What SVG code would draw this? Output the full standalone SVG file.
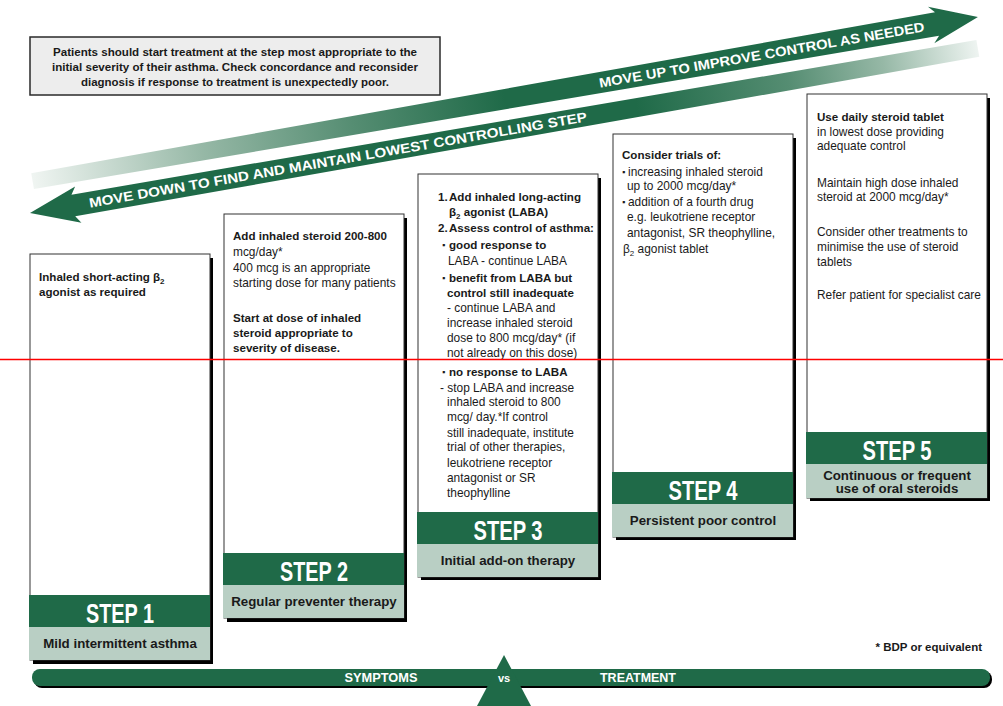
<svg xmlns="http://www.w3.org/2000/svg" width="1003" height="706" viewBox="0 0 1003 706">
<defs>
<style>
text{font-family:"Liberation Sans",Arial,sans-serif;fill:#1a1a1a}
.b{font-size:11.9px}
.bd{font-weight:bold}
.b.bd{font-size:11.6px}
.bul{font-size:9px}
.step{font-size:28px;font-weight:bold;fill:#fff;text-anchor:middle}
.lab{font-size:13.3px;font-weight:bold;text-anchor:middle;fill:#1a1a1a}
.arw{font-size:13.5px;font-weight:bold;fill:#fff}
.shadow{fill:#000}
.box{fill:#fff;stroke:#333;stroke-width:1}
.green{fill:#1f6a48}
.sage{fill:#b9cfc4}
.sub{font-size:8px}
</style>
<linearGradient id="gUp" gradientUnits="userSpaceOnUse" x1="8" y1="0" x2="967" y2="0">
<stop offset="0" stop-color="#f0f5f2"/>
<stop offset="0.18" stop-color="#96b8a6"/>
<stop offset="0.34" stop-color="#558d72"/>
<stop offset="0.5" stop-color="#1f6a48"/>
<stop offset="1" stop-color="#1f6a48"/>
</linearGradient>
<linearGradient id="gDown" gradientUnits="userSpaceOnUse" x1="0" y1="0" x2="962" y2="0">
<stop offset="0" stop-color="#1f6a48"/>
<stop offset="0.64" stop-color="#1f6a48"/>
<stop offset="0.8" stop-color="#558d72"/>
<stop offset="0.9" stop-color="#96b8a6"/>
<stop offset="1" stop-color="#eef4f1"/>
</linearGradient>
</defs>
<rect width="1003" height="706" fill="#fff"/>

<g id="arrows" transform="translate(30,213) rotate(-9.85)">
<path d="M 8 -39 L 926 -43 L 920 -49.5 L 967.5 -31 L 920 -12.5 L 926 -19 L 8 -23 Z" fill="url(#gUp)"/>
<path d="M 0 0 L 49 -18.5 L 44 -11 L 962 -8.5 L 962 8.5 L 44 11 L 49 18.5 Z" fill="url(#gDown)"/>
<text class="arw" x="583" y="-26" textLength="330" lengthAdjust="spacingAndGlyphs">MOVE UP TO IMPROVE CONTROL AS NEEDED</text>
<text class="arw" x="60" y="5" textLength="505" lengthAdjust="spacingAndGlyphs">MOVE DOWN TO FIND AND MAINTAIN LOWEST CONTROLLING STEP</text>
</g>

<g id="note">
<rect x="30" y="37" width="410" height="58" fill="#ededed" stroke="#2a2a2a" stroke-width="1.5"/>
<text class="bd" font-size="11.5" x="235" y="55.5" text-anchor="middle" textLength="364" lengthAdjust="spacingAndGlyphs">Patients should start treatment at the step most appropriate to the</text>
<text class="bd" font-size="11.5" x="235" y="70.5" text-anchor="middle" textLength="366" lengthAdjust="spacingAndGlyphs">initial severity of their asthma. Check concordance and reconsider</text>
<text class="bd" font-size="11.5" x="235" y="85.5" text-anchor="middle" textLength="308" lengthAdjust="spacingAndGlyphs">diagnosis if response to treatment is unexpectedly poor.</text>
</g>

<g id="step1">
<rect class="shadow" x="33" y="258" width="180" height="406"/>
<rect class="box" x="30" y="254" width="180" height="406"/>
<rect class="green" x="29" y="595" width="181" height="32"/>
<rect class="sage" x="29" y="627" width="181" height="33"/>
<text class="b bd" x="39" y="281">Inhaled short-acting β<tspan class="sub" dy="3">2</tspan></text>
<text class="b bd" x="39" y="296">agonist as required</text>
<text class="step" x="120" y="622.5" textLength="68" lengthAdjust="spacingAndGlyphs">STEP 1</text>
<text class="lab" x="120" y="648">Mild intermittent asthma</text>
</g>

<g id="step2">
<rect class="shadow" x="227" y="218" width="180" height="404"/>
<rect class="box" x="224" y="214" width="180" height="404"/>
<rect class="green" x="223" y="553" width="181" height="32"/>
<rect class="sage" x="223" y="585" width="181" height="33"/>
<text class="b bd" x="233" y="240">Add inhaled steroid 200-800</text>
<text class="b" x="233" y="256">mcg/day*</text>
<text class="b" x="233" y="272">400 mcg is an appropriate</text>
<text class="b" x="233" y="287">starting dose for many patients</text>
<text class="b bd" x="233" y="322">Start at dose of inhaled</text>
<text class="b bd" x="233" y="337">steroid appropriate to</text>
<text class="b bd" x="233" y="352">severity of disease.</text>
<text class="step" x="314" y="580.5" textLength="68" lengthAdjust="spacingAndGlyphs">STEP 2</text>
<text class="lab" x="314" y="606">Regular preventer therapy</text>
</g>

<g id="step3">
<rect class="shadow" x="421" y="178" width="180" height="402"/>
<rect class="box" x="418" y="174" width="180" height="403"/>
<rect class="green" x="417" y="512" width="181" height="32"/>
<rect class="sage" x="417" y="544" width="181" height="33"/>
<text class="b bd" x="438" y="201">1.</text>
<text class="b bd" x="449" y="201">Add inhaled long-acting</text>
<text class="b bd" x="449" y="216">β<tspan class="sub" dy="3">2</tspan><tspan dy="-3"> agonist (LABA)</tspan></text>
<text class="b bd" x="438" y="232">2.</text>
<text class="b bd" x="449" y="232">Assess control of asthma:</text>
<text class="bul" x="442" y="248">▪</text>
<text class="b bd" x="449" y="249">good response to</text>
<text class="b" x="448" y="264.5">LABA - continue LABA</text>
<text class="bul" x="442" y="281">▪</text>
<text class="b bd" x="449" y="282">benefit from LABA but</text>
<text class="b bd" x="447" y="297">control still inadequate</text>
<text class="b" x="447" y="312">- continue LABA and</text>
<text class="b" x="447" y="327">increase inhaled steroid</text>
<text class="b" x="447" y="342">dose to 800 mcg/day* (if</text>
<text class="b" x="447" y="357">not already on this dose)</text>
<text class="bul" x="442" y="375">▪</text>
<text class="b bd" x="449" y="376">no response to LABA</text>
<text class="b" x="440" y="391.5">- stop LABA and increase</text>
<text class="b" x="447" y="406">inhaled steroid to 800</text>
<text class="b" x="447" y="421">mcg/ day.*If control</text>
<text class="b" x="447" y="436.5">still inadequate, institute</text>
<text class="b" x="447" y="451">trial of other therapies,</text>
<text class="b" x="447" y="467">leukotriene receptor</text>
<text class="b" x="447" y="482">antagonist or SR</text>
<text class="b" x="447" y="497">theophylline</text>
<text class="step" x="508" y="539.5" textLength="69" lengthAdjust="spacingAndGlyphs">STEP 3</text>
<text class="lab" x="508" y="565">Initial add-on therapy</text>
</g>

<g id="step4">
<rect class="shadow" x="616" y="138" width="180" height="402"/>
<rect class="box" x="613" y="134" width="180" height="403"/>
<rect class="green" x="612" y="472" width="181" height="32"/>
<rect class="sage" x="612" y="504" width="181" height="33"/>
<text class="b bd" x="622" y="159">Consider trials of:</text>
<text class="bul" x="622" y="174.5">▪</text>
<text class="b" x="628" y="175.5">increasing inhaled steroid</text>
<text class="b" x="627" y="190">up to 2000 mcg/day*</text>
<text class="bul" x="622" y="204.5">▪</text>
<text class="b" x="628" y="205.5">addition of a fourth drug</text>
<text class="b" x="627" y="220.5">e.g. leukotriene receptor</text>
<text class="b" x="627" y="236.5">antagonist, SR theophylline,</text>
<text class="b" x="623" y="253">β<tspan class="sub" dy="3">2</tspan><tspan dy="-3"> agonist tablet</tspan></text>
<text class="step" x="703" y="499.5" textLength="69" lengthAdjust="spacingAndGlyphs">STEP 4</text>
<text class="lab" x="703" y="525">Persistent poor control</text>
</g>

<g id="step5">
<rect class="shadow" x="810" y="98" width="180" height="403"/>
<rect class="box" x="807" y="94" width="180" height="404"/>
<rect class="green" x="806" y="432" width="181" height="32"/>
<rect class="sage" x="806" y="464" width="181" height="34"/>
<text class="b bd" x="817" y="120.5">Use daily steroid tablet</text>
<text class="b" x="817" y="135.5">in lowest dose providing</text>
<text class="b" x="817" y="150">adequate control</text>
<text class="b" x="817" y="186.5">Maintain high dose inhaled</text>
<text class="b" x="817" y="201">steroid at 2000 mcg/day*</text>
<text class="b" x="817" y="235.5">Consider other treatments to</text>
<text class="b" x="817" y="250.5">minimise the use of steroid</text>
<text class="b" x="817" y="265.5">tablets</text>
<text class="b" x="817" y="299">Refer patient for specialist care</text>
<text class="step" x="897" y="459.5" textLength="69" lengthAdjust="spacingAndGlyphs">STEP 5</text>
<text class="lab" x="897" y="479.5">Continuous or frequent</text>
<text class="lab" x="897" y="493">use of oral steroids</text>
</g>

<g id="footnote">
<text class="bd" font-size="11.5" x="982" y="651" text-anchor="end">* BDP or equivalent</text>
</g>

<g id="balance">
<rect class="shadow" x="34" y="671" width="958" height="17" rx="8"/>
<rect class="green" x="32" y="669" width="958" height="17" rx="8"/>
<polygon class="green" points="504,655 477,706 531,706"/>
<text font-size="13" font-weight="bold" style="fill:#fff" x="381" y="682" text-anchor="middle" textLength="73" lengthAdjust="spacingAndGlyphs">SYMPTOMS</text>
<text font-size="11" font-weight="bold" style="fill:#fff" x="504" y="682" text-anchor="middle">vs</text>
<text font-size="13" font-weight="bold" style="fill:#fff" x="638" y="682" text-anchor="middle" textLength="76" lengthAdjust="spacingAndGlyphs">TREATMENT</text>
</g>

<line x1="0" y1="359.5" x2="1003" y2="359.5" stroke="#ff0000" stroke-width="1.5"/>
</svg>
